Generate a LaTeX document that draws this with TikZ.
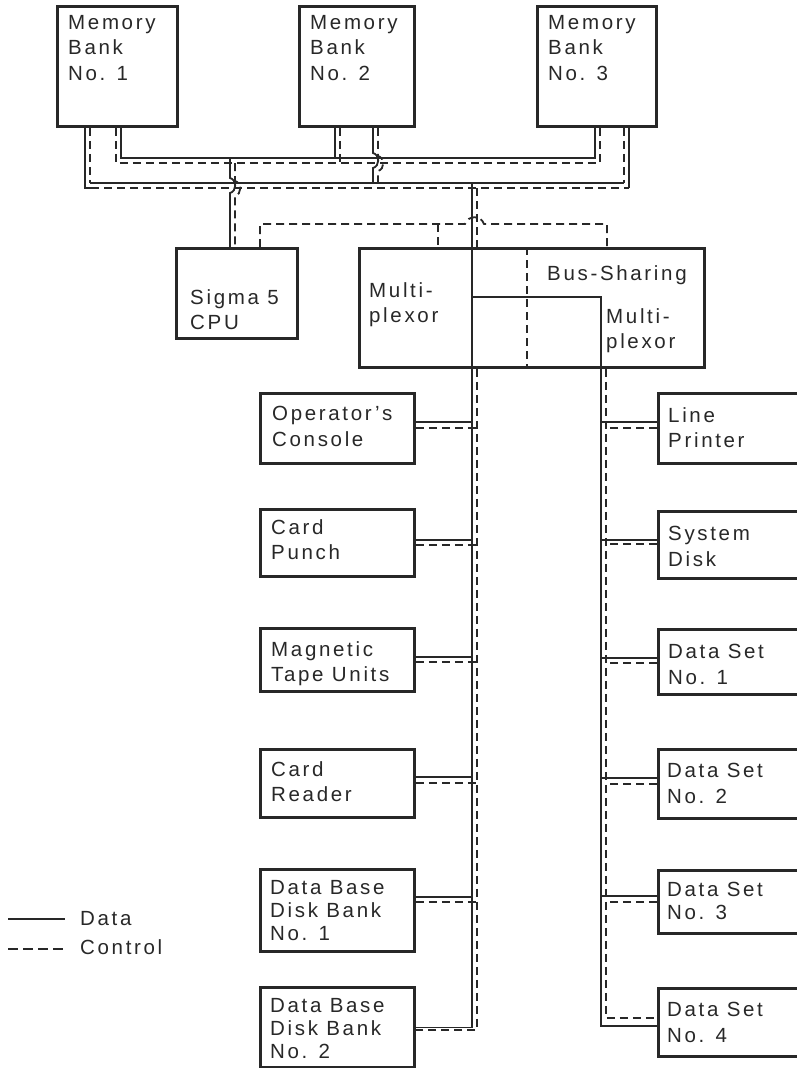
\documentclass[tikz,border=0pt]{standalone}
\usepackage{fontspec}
\setmainfont{Liberation Sans}[LetterSpace=13]
\usetikzlibrary{calc}
\definecolor{ink}{RGB}{40,40,40}
\begin{document}
\begin{tikzpicture}[x=1pt,y=-1pt,
  box/.style={draw=ink, line width=2.8pt, inner sep=0, anchor=north west},
  lbl/.style={inner sep=0, anchor=north west, align=left, text=ink,
     font=\fontsize{20.5}{25.5}\selectfont},
  lbltight/.style={lbl, font=\fontsize{20.5}{23}\selectfont},
  data/.style={draw=ink, line width=1.8pt},
  ctrl/.style={draw=ink, line width=1.8pt, dash pattern=on 8pt off 5pt}]
\useasboundingbox[fill=white] (0,0) rectangle (796,1068);

% ---------- boxes ----------
\node[box, minimum width=120, minimum height=120] (mb1) at (56,5) {};
\node[box, minimum width=115, minimum height=120] (mb2) at (298,5) {};
\node[box, minimum width=119, minimum height=120] (mb3) at (536,5) {};
\node[box, minimum width=121, minimum height=90] (cpu) at (175,247) {};
\node[box, minimum width=345, minimum height=119] (mux) at (358,247) {};

\node[box, minimum width=154, minimum height=70] (opc) at (259,392) {};
\node[box, minimum width=154, minimum height=67] (cp)  at (259,508) {};
\node[box, minimum width=154, minimum height=63] (mtu) at (259,627) {};
\node[box, minimum width=154, minimum height=68] (cr)  at (259,748) {};
\node[box, minimum width=154, minimum height=82] (db1) at (259,868) {};
\node[box, minimum width=154, minimum height=80] (db2) at (259,986) {};

\node[box, minimum width=180, minimum height=70] (lp)  at (657,392) {};
\node[box, minimum width=180, minimum height=67] (sd)  at (657,510) {};
\node[box, minimum width=180, minimum height=65] (ds1) at (657,628) {};
\node[box, minimum width=180, minimum height=69] (ds2) at (657,748) {};
\node[box, minimum width=180, minimum height=63] (ds3) at (657,869) {};
\node[box, minimum width=180, minimum height=68] (ds4) at (657,987) {};

% ---------- labels ----------
\node[lbl] (mb1t) at ($(mb1.north west)+(12,10)$) {Memory\\Bank\\No. 1};
\node[lbl] (mb2t) at ($(mb2.north west)+(12,10)$) {Memory\\Bank\\No. 2};
\node[lbl] (mb3t) at ($(mb3.north west)+(12,10)$) {Memory\\Bank\\No. 3};
\node[lbl] (cput) at ($(cpu.north west)+(15,42)$) {Sigma 5\\CPU};
\node[lbl] (muxa) at ($(mux.north west)+(11,35)$) {Multi-\\plexor};
\node[lbl] (muxb) at ($(mux.north west)+(189,18)$) {Bus-Sharing};
\node[lbl] (muxc) at ($(mux.north west)+(248,61)$) {Multi-\\plexor};

\node[lbl] (opct) at ($(opc.north west)+(13,14)$) {Operator's\\Console};
\node[lbl] (cpt)  at ($(cp.north west)+(12,11)$) {Card\\Punch};
\node[lbl] (mtut) at ($(mtu.north west)+(12,14)$) {Magnetic\\Tape Units};
\node[lbl] (crt)  at ($(cr.north west)+(12,13)$) {Card\\Reader};
\node[lbltight] (db1t) at ($(db1.north west)+(11,12)$) {Data Base\\Disk Bank\\No. 1};
\node[lbltight] (db2t) at ($(db2.north west)+(11,12)$) {Data Base\\Disk Bank\\No. 2};

\node[lbl] (lpt)  at ($(lp.north west)+(11,15)$) {Line\\Printer};
\node[lbl] (sdt)  at ($(sd.north west)+(11,16)$) {System\\Disk};
\node[lbl] (ds1t) at ($(ds1.north west)+(11,16)$) {Data Set\\No. 1};
\node[lbl] (ds2t) at ($(ds2.north west)+(10,15)$) {Data Set\\No. 2};
\node[lbltight] (ds3t) at ($(ds3.north west)+(10,13)$) {Data Set\\No. 3};
\node[lbl] (ds4t) at ($(ds4.north west)+(10,15)$) {Data Set\\No. 4};

% ---------- memory buses ----------
% bus A (inner): solid y=158, dashed y=163
\draw[data] (mb1.south -| 121,0) -- (121,158) -- (595,158) -- (mb3.south -| 595,0);
\draw[ctrl] (mb1.south -| 116,0) -- (116,163) -- (600,163) -- (mb3.south -| 600,0);
% bus B (outer)
\draw[data] (mb1.south -| 85,0) -- (85,188) -- (91,188);
\draw[ctrl] (91,188) -- (629,188);
\draw[data] (mb3.south -| 629,0) -- (629,188);
\draw[ctrl] (mb1.south -| 90,0) -- (90,183);
\draw[data] (90,183) -- (624,183);
\draw[ctrl] (mb3.south -| 624,0) -- (624,183);
% memory bank 2 taps
\draw[data] (mb2.south -| 335,0) -- (335,158);
\draw[ctrl] (mb2.south -| 340,0) -- (340,163);
\draw[data] (mb2.south -| 373,0) -- (373,153) .. controls (380,155) and (380,166) .. (373,168) -- (373,183);
\draw[ctrl] (mb2.south -| 378,0) -- (378,156) .. controls (385,158) and (385,169) .. (378,171) -- (378,188);
% CPU tap (bus A, hopping bus B)
\draw[data] (230,158) -- (230,178) .. controls (237,180) and (237,191) .. (230,193) -- (cpu.north -| 230,0);
\draw[ctrl] (235,163) -- (235,181) .. controls (242,183) and (242,194) .. (235,196) -- (cpu.north -| 235,0);

% ---------- multiplexor ----------
\coordinate (Ls) at (472,366);
\coordinate (Ld) at (477,366);
\coordinate (Rs) at (601,366);
\coordinate (Rd) at (606,366);
\draw[ctrl] (cpu.north -| 260,0) -- (260,224) -- (465,224)
   .. controls (468,215) and (481,215) .. (484,224) -- (607,224) -- (mux.north -| 607,0);
\draw[ctrl] (438,224) -- (mux.north -| 438,0);
\draw[ctrl] (477,188) -- (mux.north -| Ld);
\draw[ctrl] (mux.north -| 527,0) -- (mux.south -| 527,0);
\draw[data] (472,183) -- (Ls |- db2.east) -- (db2.east);
\draw[data] (472,297) -- (601,297) -- (Rs |- 0,1026) -- (ds4.west |- 0,1026);
\draw[ctrl] (mux.south -| Ld) -- (Ld |- 0,1030) -- (db2.east |- 0,1030);
\draw[ctrl] (mux.south -| Rd) -- (Rd |- 0,1018) -- (ds4.west |- 0,1018);

% ---------- device stubs ----------
\foreach \n/\ys/\yd in {opc/422/428, cp/540/545, mtu/657/662, cr/777/783, db1/897/902}{
  \draw[data] (\n.east |- 0,\ys) -- (Ls |- 0,\ys);
  \draw[ctrl] (\n.east |- 0,\yd) -- (Ld |- 0,\yd);
}
\foreach \n/\ys/\yd in {lp/422/428, sd/540/544, ds1/658/663, ds2/778/784, ds3/896/902}{
  \draw[data] (\n.west |- 0,\ys) -- (Rs |- 0,\ys);
  \draw[ctrl] (\n.west |- 0,\yd) -- (Rd |- 0,\yd);
}

% ---------- legend ----------
\node[lbl, anchor=west] (legdata) at (80,919) {Data};
\node[lbl, anchor=west] (legctrl) at (80,947) {Control};
\coordinate (legs) at (8,919);
\coordinate (legc) at (8,949);
\draw[data] (legs) -- (legdata.west -| 65,0);
\draw[ctrl, dash pattern=on 10pt off 5pt] (legc) -- (65,949);
\end{tikzpicture}
\end{document}
